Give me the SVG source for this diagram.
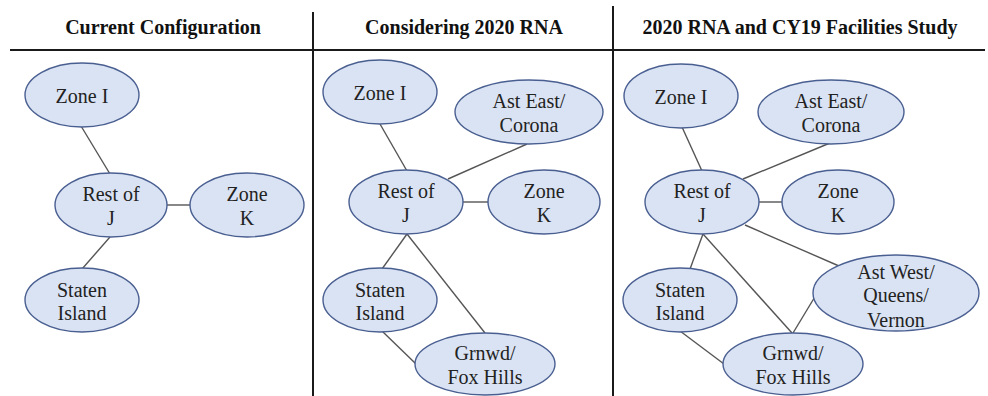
<svg xmlns="http://www.w3.org/2000/svg" width="988" height="396" viewBox="0 0 988 396">
<style>
.bg{fill:#ffffff}
.rule{stroke:#1a1a1a;stroke-width:2;fill:none}
text{font-family:'Liberation Serif','Tinos','DejaVu Serif',serif}
.title{font-weight:bold;font-size:20px;fill:#111;text-anchor:middle}
.node ellipse{fill:#dae3f3;stroke:#4a5f91;stroke-width:1.4}
.node text{font-size:20px;fill:#222;text-anchor:middle}
.edges line{stroke:#555;stroke-width:1.4}
</style>
<rect class="bg" x="0" y="0" width="988" height="396"/>
<g id="frame" font-family="Liberation Serif, serif">
<line class="rule" x1="10" y1="50" x2="985" y2="50"/>
<line class="rule" x1="313" y1="12" x2="313" y2="396"/>
<line class="rule" x1="613" y1="6" x2="613" y2="396"/>
<text class="title" x="163" y="34">Current Configuration</text>
<text class="title" x="464" y="34">Considering 2020 RNA</text>
<text class="title" x="800" y="34">2020 RNA and CY19 Facilities Study</text>
</g>
<g class="edges" id="connectors">
<line x1="81" y1="126" x2="110" y2="174"/>
<line x1="167" y1="205" x2="190" y2="205"/>
<line x1="110" y1="237" x2="82" y2="269"/>
<line x1="380" y1="124" x2="407" y2="171"/>
<line x1="527" y1="144" x2="448" y2="179"/>
<line x1="463" y1="202" x2="488" y2="202"/>
<line x1="407" y1="234" x2="382" y2="269"/>
<line x1="407" y1="234" x2="485" y2="333"/>
<line x1="382" y1="331" x2="416" y2="364"/>
<line x1="682" y1="127" x2="702" y2="171"/>
<line x1="830" y1="143" x2="743" y2="179"/>
<line x1="759" y1="202" x2="782" y2="202"/>
<line x1="703" y1="234" x2="690" y2="269"/>
<line x1="703" y1="234" x2="792" y2="333"/>
<line x1="745" y1="225" x2="839" y2="266"/>
<line x1="816" y1="295" x2="793" y2="333"/>
<line x1="680" y1="331" x2="724" y2="364"/>
</g>
<g font-family="Liberation Serif, serif">
<g class="node" id="p1-zone-i"><ellipse cx="82" cy="95" rx="57" ry="32"/><text x="82" y="103">Zone I</text></g>
<g class="node" id="p1-rest-j"><ellipse cx="111" cy="205" rx="56" ry="32"/><text x="111" y="201">Rest of</text><text x="111" y="225">J</text></g>
<g class="node" id="p1-zone-k"><ellipse cx="247" cy="205" rx="57" ry="32"/><text x="247" y="201">Zone</text><text x="247" y="225">K</text></g>
<g class="node" id="p1-staten"><ellipse cx="82" cy="300" rx="57" ry="32"/><text x="82" y="297">Staten</text><text x="82" y="320">Island</text></g>
<g class="node" id="p2-zone-i"><ellipse cx="380" cy="92" rx="57" ry="32"/><text x="380" y="100">Zone I</text></g>
<g class="node" id="p2-ast-east"><ellipse cx="529" cy="112" rx="74" ry="32"/><text x="529" y="108">Ast East/</text><text x="529" y="132">Corona</text></g>
<g class="node" id="p2-rest-j"><ellipse cx="406" cy="202" rx="57" ry="32"/><text x="406" y="198">Rest of</text><text x="406" y="222">J</text></g>
<g class="node" id="p2-zone-k"><ellipse cx="544" cy="202" rx="56" ry="32"/><text x="544" y="198">Zone</text><text x="544" y="222">K</text></g>
<g class="node" id="p2-staten"><ellipse cx="380" cy="300" rx="57" ry="32"/><text x="380" y="297">Staten</text><text x="380" y="320">Island</text></g>
<g class="node" id="p2-grnwd"><ellipse cx="485" cy="364" rx="70" ry="31"/><text x="485" y="360">Grnwd/</text><text x="485" y="384">Fox Hills</text></g>
<g class="node" id="p3-zone-i"><ellipse cx="681" cy="96" rx="57" ry="32"/><text x="681" y="104">Zone I</text></g>
<g class="node" id="p3-ast-east"><ellipse cx="831" cy="112" rx="73" ry="32"/><text x="831" y="108">Ast East/</text><text x="831" y="132">Corona</text></g>
<g class="node" id="p3-rest-j"><ellipse cx="702" cy="202" rx="57" ry="32"/><text x="702" y="198">Rest of</text><text x="702" y="222">J</text></g>
<g class="node" id="p3-zone-k"><ellipse cx="838" cy="202" rx="56" ry="32"/><text x="838" y="198">Zone</text><text x="838" y="222">K</text></g>
<g class="node" id="p3-staten"><ellipse cx="680" cy="300" rx="57" ry="32"/><text x="680" y="297">Staten</text><text x="680" y="320">Island</text></g>
<g class="node" id="p3-ast-west"><ellipse cx="896" cy="293" rx="83" ry="38"/><text x="896" y="279">Ast West/</text><text x="896" y="302">Queens/</text><text x="896" y="327">Vernon</text></g>
<g class="node" id="p3-grnwd"><ellipse cx="793" cy="364" rx="70" ry="31"/><text x="793" y="360">Grnwd/</text><text x="793" y="384">Fox Hills</text></g>
</g>
</svg>
